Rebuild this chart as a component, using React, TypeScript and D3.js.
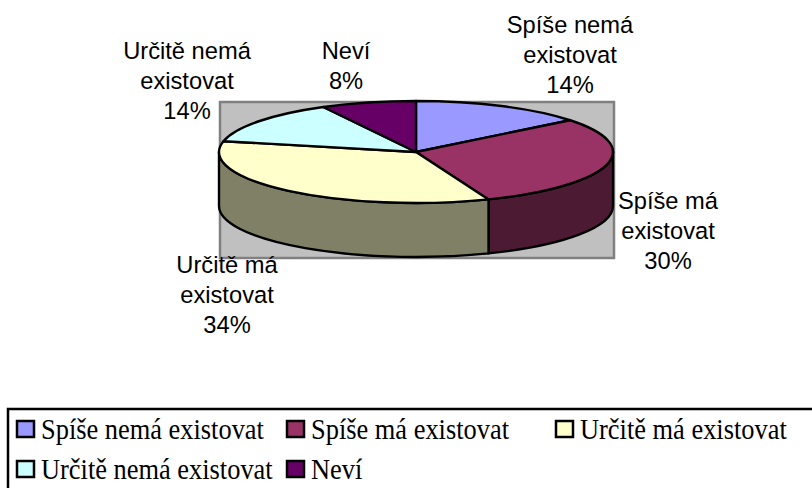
import React from "react";
import * as d3 from "d3";

const categories = ["Spíše nemá existovat", "Spíše má existovat", "Určitě má existovat", "Určitě nemá existovat", "Neví"];
const values = [14.3, 29.7, 34.4, 13.8, 7.8];
const topColors = ["#9999FF", "#993366", "#FFFFCC", "#CCFFFF", "#660066"];
const sideColors = ["#4D4D80", "#4D1A33", "#808066", "#668080", "#330033"];
const labelLines = [
  ["Spíše nemá", "existovat"],
  ["Spíše má", "existovat"],
  ["Určitě má", "existovat"],
  ["Určitě nemá", "existovat"],
  ["Neví"],
];
const labelAnchors: [number, number][] = [
  [570, 33],
  [668, 209],
  [227, 273],
  [187, 59],
  [346, 59],
];
const legendSwatchX = [17, 287, 556, 17, 287];
const legendTextX = [41, 311, 580, 41, 311];
const legendBaseline = [439, 439, 439, 479, 479];

const cx = 416, cy = 152, rx = 197, ry = 51, depth = 54;
const px = d3.scaleLinear().domain([-1, 1]).range([cx - rx, cx + rx]);
const py = d3.scaleLinear().domain([-1, 1]).range([cy - ry, cy + ry]);
const X = (a: number) => px(Math.sin(a));
const Y = (a: number) => py(-Math.cos(a));

const slices = d3.pie<number>().sort(null)(values);

function topPath(a0: number, a1: number) {
  const large = a1 - a0 > Math.PI ? 1 : 0;
  return `M${cx},${cy}L${X(a0)},${Y(a0)}A${rx},${ry} 0 ${large} 1 ${X(a1)},${Y(a1)}Z`;
}
function sidePath(a0: number, a1: number) {
  const s = Math.max(a0, Math.PI / 2), e = Math.min(a1, 1.5 * Math.PI);
  if (s >= e) return null;
  return `M${X(s)},${Y(s)}A${rx},${ry} 0 0 1 ${X(e)},${Y(e)}L${X(e)},${Y(e) + depth}A${rx},${ry} 0 0 0 ${X(s)},${Y(s) + depth}Z`;
}

export default function App() {
  return (
    <svg width={812} height={488} style={{ position: "absolute", left: 0, top: 0, background: "#fff" }}>
      <rect x={220} y={102} width={394} height={156} fill="#C0C0C0" stroke="#808080" strokeWidth={2.5} />
      {slices.map((s, i) => {
        const d = sidePath(s.startAngle, s.endAngle);
        return d ? <path key={i} d={d} fill={sideColors[i]} stroke="#000" strokeWidth={2.4} strokeLinejoin="round" /> : null;
      })}
      {slices.map((s, i) => (
        <path key={i} d={topPath(s.startAngle, s.endAngle)} fill={topColors[i]} stroke="#000" strokeWidth={2.4} strokeLinejoin="round" />
      ))}
      <g fontFamily="'Liberation Sans'" fontSize={23.7} fill="#000">
        {labelLines.map((lines, i) => (
          <text key={i} x={labelAnchors[i][0]} y={labelAnchors[i][1]} textAnchor="middle">
            {[...lines, `${Math.round(values[i])}%`].map((l, j) => (
              <tspan key={j} x={labelAnchors[i][0]} dy={j === 0 ? 0 : 29.8}>{l}</tspan>
            ))}
          </text>
        ))}
      </g>
      <rect x={8} y={409} width={815} height={90} fill="#fff" stroke="#000" strokeWidth={2.5} />
      <g fontFamily="'Liberation Serif'" fontSize={29} fill="#000">
        {categories.map((c, i) => (
          <g key={i}>
            <rect x={legendSwatchX[i]} y={legendBaseline[i] - 18} width={17} height={16} fill={topColors[i]} stroke="#000" strokeWidth={2.5} />
            <text transform={`translate(${legendTextX[i]},${legendBaseline[i]}) scale(0.911,1)`}>{c}</text>
          </g>
        ))}
      </g>
    </svg>
  );
}
